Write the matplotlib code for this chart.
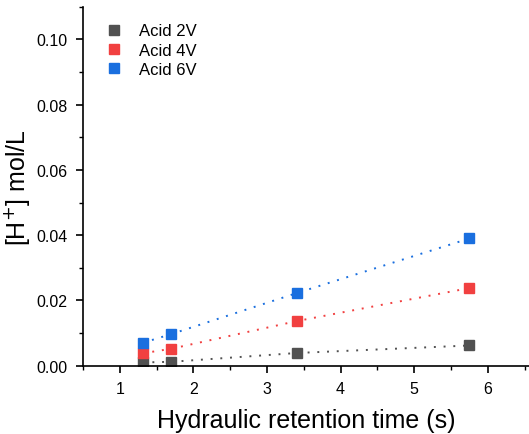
import numpy as np
import matplotlib.pyplot as plt
from matplotlib.ticker import MultipleLocator

plt.rcParams['font.family'] = ['Liberation Sans', 'DejaVu Sans']

# hydraulic retention time (s)
hrt = [1.31, 1.70, 3.41, 5.75]
# [H+] mol/L for each voltage
acid_2v = [0.0010, 0.0012, 0.0039, 0.0062]
acid_4v = [0.0038, 0.0052, 0.0137, 0.0238]
acid_6v = [0.0070, 0.0097, 0.0223, 0.0390]

labels = ['Acid 2V', 'Acid 4V', 'Acid 6V']
colors = ['#515151', '#F14040', '#1A6FDF']

fig = plt.figure(figsize=(5.29, 4.35), dpi=100)
ax = fig.add_axes([0.157, 0.157, 0.843, 0.825])

for ys, lab, c in zip([acid_2v, acid_4v, acid_6v], labels, colors):
    # dotted trend through the points
    ax.plot(hrt, ys, linestyle=(0, (1, 4)), color=c, linewidth=1.4)
    ax.plot(hrt, ys, linestyle='none', marker='s', markersize=7.5,
            color=c, markeredgecolor=c, label=lab)

ax.set_xlim(0.5, 6.56)
ax.set_ylim(0, 0.11)
ax.xaxis.set_major_locator(MultipleLocator(1))
ax.xaxis.set_minor_locator(MultipleLocator(0.5))
ax.yaxis.set_major_locator(MultipleLocator(0.02))
ax.yaxis.set_minor_locator(MultipleLocator(0.01))
ax.yaxis.set_major_formatter(plt.FormatStrFormatter('%.2f'))

ax.spines['top'].set_visible(False)
ax.spines['right'].set_visible(False)
for s in ['left', 'bottom']:
    ax.spines[s].set_linewidth(1.2)
ax.tick_params(which='major', direction='out', length=5, width=1.2, labelsize=11.5, pad=6)
ax.tick_params(which='minor', direction='out', length=3, width=1.0)

ax.set_xlabel('Hydraulic retention time (s)', fontsize=18, labelpad=9)
ax.set_ylabel('[H$^{+}$] mol/L', fontsize=18, labelpad=3)

ax.legend(loc='upper left', frameon=False, fontsize=12, handletextpad=0.5,
          labelspacing=0.25, borderaxespad=0.6, bbox_to_anchor=(-0.005, 1.0))

fig.savefig('out.png', dpi=100)
